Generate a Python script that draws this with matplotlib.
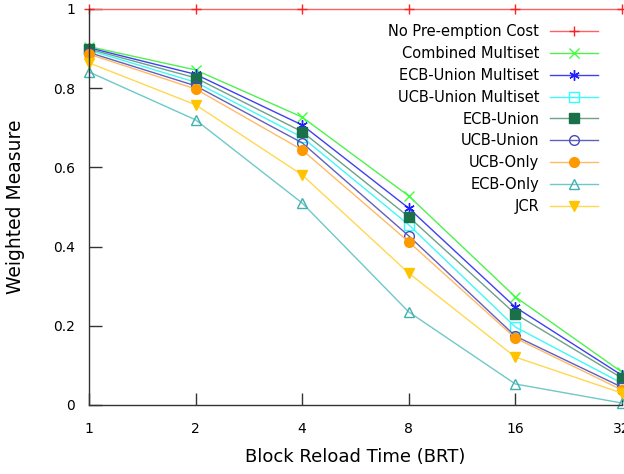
import numpy as np
import matplotlib.pyplot as plt

# block reload time (log2 axis)
brt = [1, 2, 4, 8, 16, 32]
xticklabels = ["1", "2", "4", "8", "16", "32"]

no_preemption = [1.0, 1.0, 1.0, 1.0, 1.0, 1.0]
combined_multiset = [0.905, 0.846, 0.727, 0.528, 0.273, 0.083]
ecb_union_multiset = [0.902, 0.835, 0.707, 0.497, 0.247, 0.075]
ucb_union_multiset = [0.896, 0.815, 0.676, 0.455, 0.197, 0.055]
ecb_union = [0.899, 0.826, 0.690, 0.475, 0.230, 0.068]
ucb_union = [0.890, 0.806, 0.662, 0.427, 0.174, 0.045]
ucb_only = [0.886, 0.798, 0.644, 0.412, 0.169, 0.038]
ecb_only = [0.841, 0.720, 0.510, 0.235, 0.053, 0.005]
jcr = [0.864, 0.758, 0.581, 0.333, 0.121, 0.030]

asterisk = (6, 2, 0)
series = [
    ("No Pre-emption Cost", no_preemption, "#ff2020", "#ff6060", "+", True),
    ("Combined Multiset", combined_multiset, "#40ff40", "#50f050", "x", True),
    ("ECB-Union Multiset", ecb_union_multiset, "#2020ff", "#4040f0", asterisk, True),
    ("UCB-Union Multiset", ucb_union_multiset, "#30ffff", "#40f8f8", "s", False),
    ("ECB-Union", ecb_union, "#1a7048", "#70a088", "s", True),
    ("UCB-Union", ucb_union, "#4a4ab8", "#6060c0", "o", False),
    ("UCB-Only", ucb_only, "#ff9900", "#ffbb66", "o", True),
    ("ECB-Only", ecb_only, "#40b0b0", "#70c8c8", "^", False),
    ("JCR", jcr, "#ffc400", "#ffd850", "v", True),
]

fig = plt.figure(figsize=(6.24, 4.74), dpi=100)
ax = fig.add_axes([0.1426, 0.1456, 0.854, 0.8355])

for label, vals, mcol, lcol, mk, filled in series:
    ms = 7 if mk in ("s", "o", "^", "v") else 7.5
    ax.plot(brt, vals, color=lcol, lw=1.0, marker=mk, markersize=ms,
            markeredgecolor=mcol, markerfacecolor=mcol if filled else "none",
            markeredgewidth=1.0, label=label, clip_on=False)

ax.set_xscale("log", base=2)
ax.set_xlim(1, 32)
ax.set_ylim(0, 1)
ax.set_xticks(brt)
ax.set_xticklabels(xticklabels)
ax.minorticks_off()
ax.set_yticks([0, 0.2, 0.4, 0.6, 0.8, 1])
ax.set_yticklabels(["0", "0.2", "0.4", "0.6", "0.8", "1"])
ax.tick_params(direction="in", length=9, width=1, labelsize=10, color="#333333")
ax.tick_params(axis="x", pad=12)
ax.tick_params(axis="y", pad=10)
ax.spines["top"].set_visible(False)
ax.spines["right"].set_visible(False)
for sp in ax.spines.values():
    sp.set_color("#333333")
    sp.set_linewidth(1.0)

ax.set_xlabel("Block Reload Time (BRT)", fontsize=13, labelpad=9)
ax.set_ylabel("Weighted Measure", fontsize=13.5, labelpad=20)

ax.legend(loc="upper right", bbox_to_anchor=(0.959, 0.949),
          bbox_transform=fig.transFigure, frameon=False,
          markerfirst=False, fontsize=10.5, handlelength=3.3, labelspacing=0.47,
          borderaxespad=0, borderpad=0, handletextpad=0.75)

fig.savefig("out.png", dpi=100)
